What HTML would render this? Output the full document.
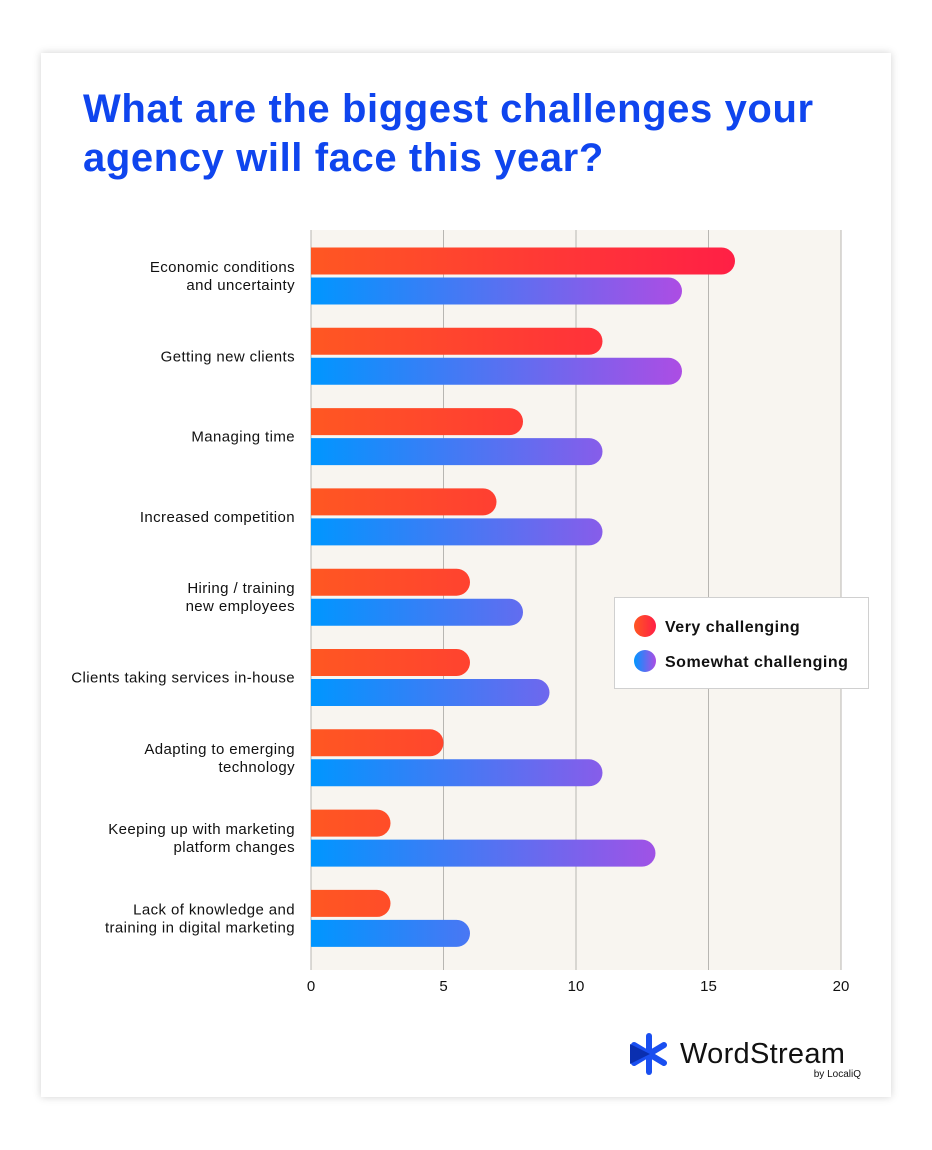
<!DOCTYPE html>
<html><head><meta charset="utf-8"><style>
body{margin:0;width:932px;height:1150px;background:#fff;font-family:"Liberation Sans",sans-serif;position:relative;overflow:hidden}
#card{position:absolute;left:41px;top:53px;width:850px;height:1044px;background:#fff;box-shadow:0 0 8px rgba(0,0,0,0.18)}
#title{position:absolute;left:83px;top:85px;margin:0;font-size:40px;font-weight:bold;color:#0f45ee;line-height:49px;letter-spacing:0.6px;white-space:nowrap}
svg{position:absolute;left:0;top:0}
</style></head><body>
<div id="card"></div>
<h1 id="title">What are the biggest challenges your<br>agency will face this year?</h1>
<svg id="chart" width="932" height="1150">
<defs>
<linearGradient id="gr" gradientUnits="userSpaceOnUse" x1="311" y1="0" x2="741" y2="0"><stop offset="0" stop-color="#ff5722"/><stop offset="1" stop-color="#ff1f46"/></linearGradient>
<linearGradient id="gb" gradientUnits="userSpaceOnUse" x1="311" y1="0" x2="682" y2="0"><stop offset="0" stop-color="#0096ff"/><stop offset="1" stop-color="#ac4de4"/></linearGradient>
<linearGradient id="lr" x1="0" y1="0" x2="1" y2="0"><stop offset="0" stop-color="#ff5722"/><stop offset="1" stop-color="#ff1f46"/></linearGradient>
<linearGradient id="lb" x1="0" y1="0" x2="1" y2="0"><stop offset="0" stop-color="#0096ff"/><stop offset="1" stop-color="#ac4de4"/></linearGradient>
</defs>
<rect x="311" y="230" width="530" height="740" fill="#f8f5f0"/>
<g id="grid"></g><g id="bars"></g><g id="labels"></g>
<g>
<rect x="614.5" y="597.5" width="254" height="91" fill="#fff" stroke="#d0d0d0"/>
<circle cx="645" cy="626" r="11" fill="url(#lr)"/>
<text x="665" y="632" font-size="16" font-weight="bold" letter-spacing="0.5" fill="#111">Very challenging</text>
<circle cx="645" cy="661" r="11" fill="url(#lb)"/>
<text x="665" y="667" font-size="16" font-weight="bold" letter-spacing="0.5" fill="#111">Somewhat challenging</text>
</g>
<g>
<g stroke="#1a4ff0" stroke-width="6" stroke-linecap="round">
<line x1="649" y1="1036" x2="649" y2="1072"/><line x1="634" y1="1045" x2="664" y2="1063"/><line x1="634" y1="1063" x2="664" y2="1045"/>
</g>
<polygon points="630,1044 650,1054 630,1064" fill="#0a2fb0"/>
<text x="680" y="1063" font-size="29" letter-spacing="0.3" fill="#111">WordStream</text>
<text x="861" y="1077" font-size="10" fill="#111" text-anchor="end">by LocaliQ</text>
</g>
</svg>
<script>
const categories=[["Economic conditions","and uncertainty"],["Getting new clients"],["Managing time"],["Increased competition"],["Hiring / training","new employees"],["Clients taking services in-house"],["Adapting to emerging","technology"],["Keeping up with marketing","platform changes"],["Lack of knowledge and","training in digital marketing"]];
const veryValues=[16,11,8,7,6,6,5,3,3];
const somewhatValues=[14,14,11,11,8,9,11,13,6];
const ticks=[0,5,10,15,20];
const NS="http://www.w3.org/2000/svg";
const x=v=>311+v*26.5;
const yc=i=>276+i*80.3;
function mk(t,a,p){const e=document.createElementNS(NS,t);for(const k in a)e.setAttribute(k,a[k]);p.appendChild(e);return e;}
const grid=document.getElementById('grid'),bars=document.getElementById('bars'),labels=document.getElementById('labels');
ticks.forEach(t=>{
 const l=mk('line',{x1:x(t),x2:x(t),y1:230,y2:970,stroke:'#b8b6b2','stroke-width':1},grid);
 
 
 const tx=mk('text',{x:x(t),y:991,'font-size':15,'text-anchor':'middle',fill:'#111'},grid);tx.textContent=t;
 
 
});
function bar(v,yt,fill,name){
 const h=27,r=13.5,x0=311,x1=x(v);
 const p=mk('path',{d:`M${x0},${yt}H${x1-r}A${r},${r} 0 0 1 ${x1-r},${yt+h}H${x0}Z`,fill:fill},bars);
 
 
}
categories.forEach((c,i)=>{
 bar(veryValues[i],yc(i)-28.5,'url(#gr)','bar-very-'+i);
 bar(somewhatValues[i],yc(i)+1.5,'url(#gb)','bar-somewhat-'+i);
 const t=mk('text',{x:295,'font-size':15,'letter-spacing':0.4,'text-anchor':'end',fill:'#111'},labels);
 
 
 const y0=c.length===1?yc(i)+5:yc(i)-4;
 c.forEach((s,j)=>{const ts=mk('tspan',{x:295,y:y0+j*18},t);ts.textContent=s;});
});
</script>
</body></html>
